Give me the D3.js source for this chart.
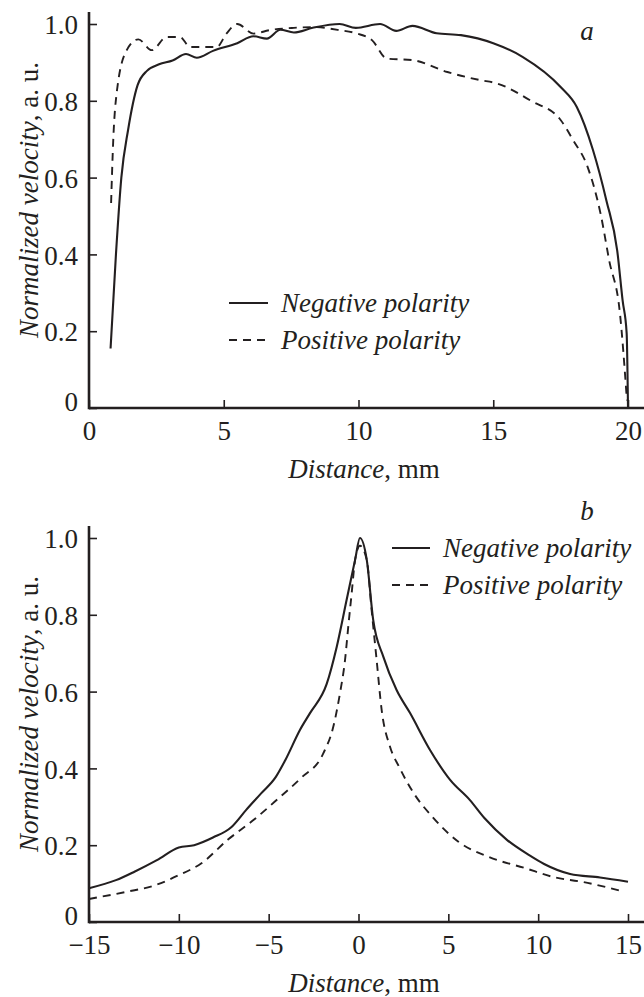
<!DOCTYPE html>
<html><head><meta charset="utf-8">
<script src="https://cdn.jsdelivr.net/npm/d3@7"></script>
<style>body{margin:0;background:#fff}svg{display:block}text{font-family:"Liberation Serif","Times New Roman",serif;fill:#231f20}</style>
</head><body>
<script>
// ---- Panel a data ----
const topXTicks = [0, 5, 10, 15, 20];
const yTicks = [0, 0.2, 0.4, 0.6, 0.8, 1.0];
const topNegX = [0.8, 1.0, 1.2, 1.45, 1.8, 2.15, 2.6, 3.1, 3.6, 4.0, 4.6, 5.5, 6.1, 6.6, 7.1, 7.6, 8.3, 9.3, 9.9, 10.8, 11.4, 12.0, 12.9, 13.8, 15.0, 16.1, 17.5, 18.1, 18.7, 19.2, 19.6, 19.8, 19.95, 20.0];
const topNegY = [0.155, 0.4, 0.6, 0.724, 0.84, 0.878, 0.895, 0.905, 0.922, 0.912, 0.93, 0.95, 0.968, 0.962, 0.985, 0.978, 0.99, 1.0, 0.99, 1.0, 0.982, 0.995, 0.976, 0.971, 0.95, 0.914, 0.836, 0.784, 0.672, 0.54, 0.41, 0.28, 0.195, 0.0];
const topPosX = [0.82, 0.9, 1.04, 1.4, 1.83, 2.33, 2.88, 3.38, 3.75, 4.37, 4.74, 5.1, 5.5, 6.1, 6.7, 7.6, 8.3, 9.3, 9.95, 10.5, 11.05, 12.0, 13.3, 14.5, 15.1, 16.4, 17.5, 17.96, 18.5, 19.0, 19.3, 19.7, 19.96];
const topPosY = [0.534, 0.698, 0.828, 0.932, 0.96, 0.932, 0.966, 0.966, 0.94, 0.94, 0.94, 0.975, 1.0, 0.975, 0.984, 0.99, 0.992, 0.984, 0.975, 0.958, 0.91, 0.906, 0.875, 0.854, 0.846, 0.8, 0.75, 0.698, 0.628, 0.5, 0.385, 0.247, 0.02];

// ---- Panel b data ----
const botXTicks = [-15, -10, -5, 0, 5, 10, 15];
const botNegX = [-15, -13.5, -12.47, -11.22, -10, -9.15, -8.1, -7.1, -6.25, -5.42, -4.6, -4.07, -3.26, -2.7, -1.77, -1.21, -0.66, -0.19, 0.08, 0.46, 0.82, 1.38, 2.12, 2.87, 3.98, 5.1, 6.19, 7.02, 8.26, 9.5, 10.33, 11.78, 13.44, 15.0];
const botNegY = [0.088, 0.109, 0.131, 0.161, 0.194, 0.2, 0.22, 0.246, 0.292, 0.335, 0.378, 0.422, 0.5, 0.544, 0.62, 0.717, 0.839, 0.943, 1.0, 0.943, 0.786, 0.691, 0.604, 0.544, 0.448, 0.37, 0.318, 0.27, 0.214, 0.174, 0.151, 0.125, 0.116, 0.105];
const botPosX = [-15, -12.88, -11.43, -10, -8.74, -7.28, -5.83, -4.5, -3.2, -1.96, -1.4, -1.03, -0.75, -0.57, -0.38, -0.19, 0.08, 0.46, 0.73, 1.01, 1.29, 1.75, 2.25, 3.08, 4.11, 5.56, 7.22, 9.29, 10.95, 12.4, 14.78];
const botPosY = [0.06, 0.079, 0.094, 0.122, 0.153, 0.214, 0.266, 0.32, 0.375, 0.439, 0.509, 0.596, 0.682, 0.769, 0.856, 0.943, 0.98, 0.943, 0.8125, 0.682, 0.552, 0.457, 0.405, 0.335, 0.274, 0.209, 0.17, 0.14, 0.116, 0.105, 0.079];

const seriesNames = ["Negative polarity", "Positive polarity"];

const W = 644, H = 997, FS = 27;
const svg = d3.select("body").append("svg").attr("width", W).attr("height", H);
const ink = "#231f20";

function panel(cfg) {
  const x = d3.scaleLinear().domain(cfg.xDomain).range([89, 628]);
  const y = d3.scaleLinear().domain([0, 1]).range([cfg.y0, cfg.y0 - 384]);
  const g = svg.append("g");

  // curves
  const line = d3.line().x(d => x(d[0])).y(d => y(d[1])).curve(d3.curveMonotoneX);
  g.append("path").datum(d3.zip(cfg.negX, cfg.negY)).attr("d", line)
    .attr("fill", "none").attr("stroke", ink).attr("stroke-width", 2.1);
  g.append("path").datum(d3.zip(cfg.posX, cfg.posY)).attr("d", line)
    .attr("fill", "none").attr("stroke", ink).attr("stroke-width", 1.9).attr("stroke-dasharray", "8,6");

  // axes
  const xa = g.append("g").attr("transform", `translate(0,${cfg.y0})`)
    .call(d3.axisBottom(x).tickValues(cfg.xTicks).tickSizeInner(-8).tickSizeOuter(0).tickPadding(13)
      .tickFormat(d => d < 0 ? "\u2212" + Math.abs(d) : String(d)));
  const ya = g.append("g").attr("transform", "translate(89,0)")
    .call(d3.axisLeft(y).tickValues(yTicks).tickSizeInner(-8).tickSizeOuter(0).tickPadding(11)
      .tickFormat(d => d === 0 ? "0" : d.toFixed(1)));
  [xa, ya].forEach(a => {
    a.select(".domain").remove();
    a.selectAll(".tick line").attr("stroke", ink).attr("stroke-width", 1.6);
    a.selectAll(".tick text").attr("font-size", FS).attr("font-family", "Liberation Serif").attr("fill", ink);
  });
  ya.selectAll(".tick text").attr("dy", d => d === 0 ? "0.08em" : "0.36em");
  g.append("line").attr("x1", 89).attr("x2", 644).attr("y1", cfg.y0).attr("y2", cfg.y0)
    .attr("stroke", ink).attr("stroke-width", 2.6);
  g.append("line").attr("x1", 89).attr("x2", 89).attr("y1", cfg.y0 + 1.3).attr("y2", cfg.y0 - 396)
    .attr("stroke", ink).attr("stroke-width", 2.6);

  // axis titles
  const xt = g.append("text").attr("x", 364).attr("y", cfg.y0 + 70).attr("text-anchor", "middle").attr("font-size", FS);
  xt.append("tspan").attr("font-style", "italic").text("Distance");
  xt.append("tspan").text(", mm");
  const yt = g.append("text").attr("transform", `translate(38,${cfg.y0 - 208}) rotate(-90)`)
    .attr("text-anchor", "middle").attr("font-size", FS);
  yt.append("tspan").attr("font-style", "italic").text("Normalized velocity");
  yt.append("tspan").text(", a. u.");

  // panel letter
  g.append("text").attr("x", cfg.letterX).attr("y", cfg.letterY).attr("font-size", FS)
    .attr("font-style", "italic").attr("text-anchor", "middle").text(cfg.letter);

  // legend
  const lg = g.append("g");
  seriesNames.forEach((name, i) => {
    const ly = cfg.legY + i * cfg.legDy;
    lg.append("line").attr("x1", cfg.legX1).attr("x2", cfg.legX2).attr("y1", ly).attr("y2", ly)
      .attr("stroke", ink).attr("stroke-width", i ? 1.9 : 2.1).attr("stroke-dasharray", i ? "8,6" : null);
    lg.append("text").attr("x", cfg.legTX).attr("y", ly).attr("dy", "0.33em").attr("font-size", FS)
      .attr("font-style", "italic").text(name);
  });
}

panel({xDomain: [0, 20], xTicks: topXTicks, y0: 408, negX: topNegX, negY: topNegY, posX: topPosX, posY: topPosY,
  letter: "a", letterX: 587, letterY: 40, legX1: 229, legX2: 268, legTX: 281, legY: 303, legDy: 37});
panel({xDomain: [-15, 15], xTicks: botXTicks, y0: 922, negX: botNegX, negY: botNegY, posX: botPosX, posY: botPosY,
  letter: "b", letterX: 587, letterY: 520, legX1: 392, legX2: 430, legTX: 443, legY: 548, legDy: 37});
</script>
</body></html>
